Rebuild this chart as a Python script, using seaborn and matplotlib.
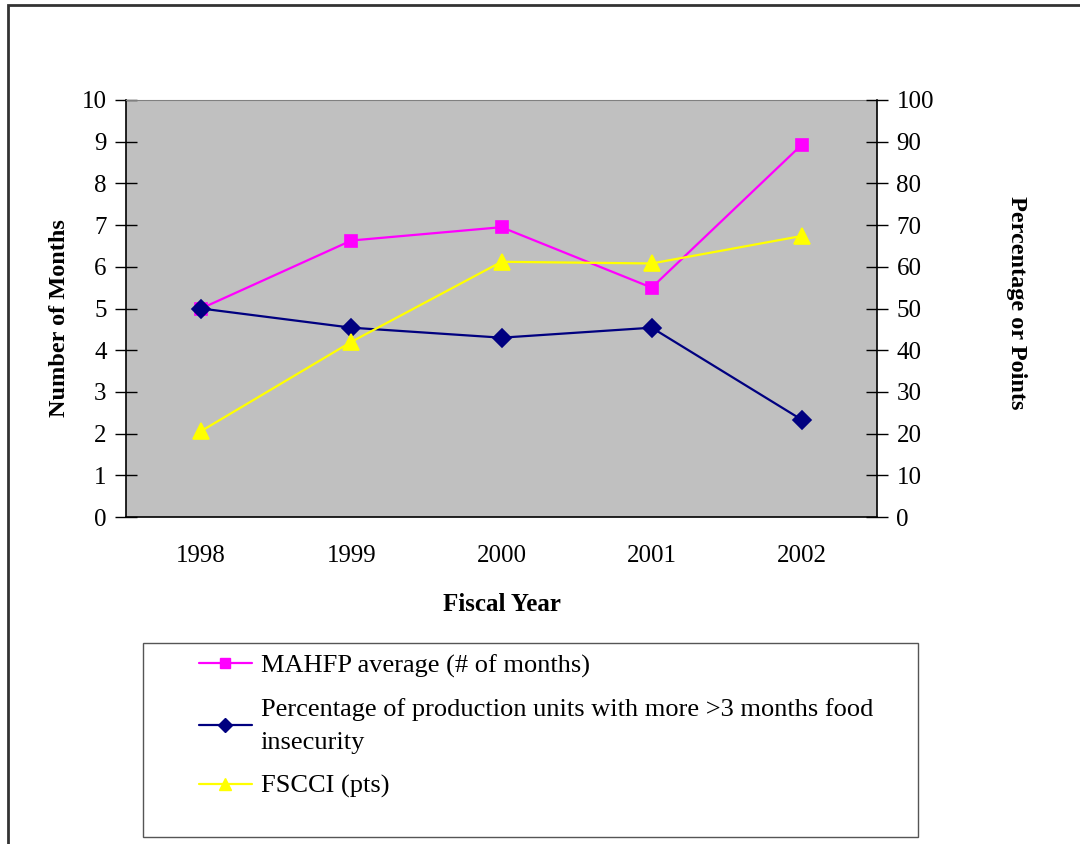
import matplotlib
matplotlib.use("Agg")
import matplotlib.pyplot as plt
import seaborn as sns
import numpy as np
from matplotlib.lines import Line2D
from matplotlib.patches import Rectangle

# --- data ---
years = ["1998", "1999", "2000", "2001", "2002"]
mahfp_months = [5.0, 6.63, 6.95, 5.5, 8.93]          # left axis
pct_food_insecure = [50.0, 45.4, 43.0, 45.4, 23.3]   # right axis
fscci_pts = [20.6, 42.0, 61.2, 60.8, 67.4]           # right axis

labels = [
    "MAHFP average (# of months)",
    "Percentage of production units with more >3 months food\ninsecurity",
    "FSCCI (pts)",
]
colors = ["#FF00FF", "#000080", "#FFFF00"]
markers = ["s", "D", "^"]
msizes = [9, 9, 11]

sns.set_style("white")
plt.rcParams["font.family"] = ["Liberation Serif", "DejaVu Serif"]
plt.rcParams["text.color"] = "black"
plt.rcParams["axes.labelcolor"] = "black"
plt.rcParams["xtick.color"] = "black"
plt.rcParams["ytick.color"] = "black"

fig = plt.figure(figsize=(10.8, 8.44), dpi=100)
fig.set_facecolor("white")

# outer chart border (only left/top visible in the original crop)
fig.patches.append(Rectangle((8 / 1080, -0.05), 1.2, (844 - 5) / 844 + 0.05,
                             transform=fig.transFigure, fill=False,
                             edgecolor="#333333", linewidth=2))

ax = fig.add_axes([126 / 1080, 327 / 844, 751 / 1080, 417 / 844])
ax.set_facecolor("#C0C0C0")
ax2 = ax.twinx()

sns.pointplot(x=years, y=mahfp_months, ax=ax, color=colors[0], marker=markers[0],
              markersize=msizes[0], linewidth=1.6, errorbar=None)
sns.pointplot(x=years, y=pct_food_insecure, ax=ax2, color=colors[1], marker=markers[1],
              markersize=msizes[1], linewidth=1.6, errorbar=None)
sns.pointplot(x=years, y=fscci_pts, ax=ax2, color=colors[2], marker=markers[2],
              markersize=msizes[2], linewidth=1.6, errorbar=None)

ax.set_xlim(-0.5, 4.5)
ax.set_ylim(0, 10)
ax2.set_ylim(0, 100)
ax.set_yticks(np.arange(0, 11, 1))
ax2.set_yticks(np.arange(0, 101, 10))
ax.grid(False)
ax2.grid(False)

# x ticks: labels at category centres, tick marks between categories
ax.set_xticks(range(len(years)))
ax.set_xticklabels(years)
ax.set_xticks(np.arange(-0.5, 5, 1), minor=True)
ax.tick_params(axis="x", which="major", length=0, pad=20, labelsize=18)
ax.tick_params(axis="x", which="minor", direction="inout", length=14, width=1, color="black")
ax.tick_params(axis="y", direction="inout", length=16, width=1, pad=6, labelsize=18, color="black")
ax2.tick_params(axis="y", direction="inout", length=16, width=1, pad=6, labelsize=18, color="black")

for s in ["left", "bottom"]:
    ax.spines[s].set_color("black")
    ax.spines[s].set_linewidth(1.2)
ax.spines["top"].set_color("#808080")
ax.spines["right"].set_visible(False)
for s in ["left", "bottom", "top"]:
    ax2.spines[s].set_visible(False)
ax2.spines["right"].set_color("black")
ax2.spines["right"].set_linewidth(1.2)

ax.set_xlabel("Fiscal Year", fontsize=18, fontweight="bold")
ax.xaxis.set_label_coords(0.5, -0.182)
ax.set_ylabel("Number of Months", fontsize=17.5, fontweight="bold")
ax.yaxis.set_label_coords(-0.075, 0.477)
ax2.set_ylabel("Percentage or Points", fontsize=17.5, fontweight="bold", rotation=-90, va="center")
ax2.yaxis.set_label_coords(1.186, 0.513)

# legend box
fig.patches.append(Rectangle((143 / 1080, 7 / 844), 775 / 1080, 194 / 844,
                             transform=fig.transFigure, fill=False,
                             edgecolor="#555555", linewidth=1))
handles = [Line2D([], [], color=c, marker=m, markersize=ms * 0.8, linewidth=1.6)
           for c, m, ms in zip(colors, markers, msizes)]
leg = fig.legend(handles, labels, loc="upper left",
                 bbox_to_anchor=(175 / 1080, (844 - 630) / 844),
                 frameon=False, fontsize=19, handlelength=2.0, handletextpad=0.35,
                 labelspacing=0.77, borderpad=0.4)
for t in leg.get_texts():
    t.set_linespacing(1.65)
    t.set_color("black")

plt.savefig("out.png", dpi=100, facecolor="white")
plt.close(fig)
